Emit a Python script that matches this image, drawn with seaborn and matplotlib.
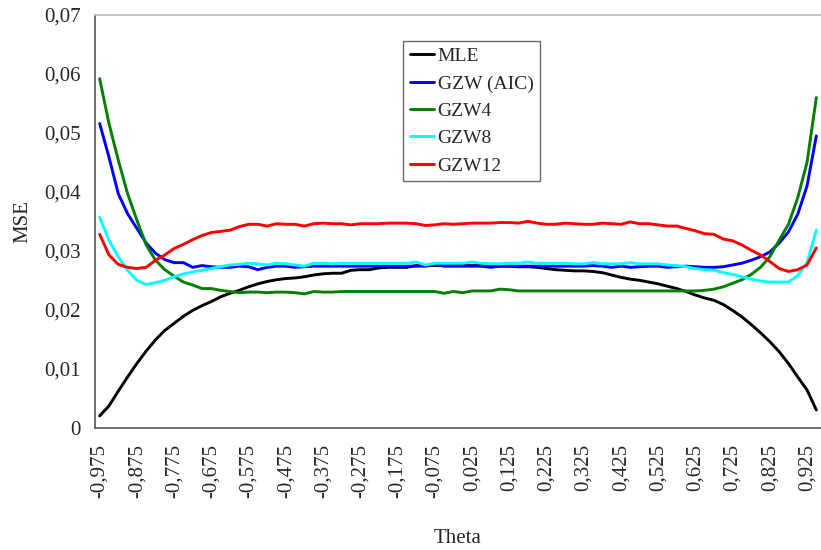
import numpy as np
import pandas as pd
import matplotlib
matplotlib.use("Agg")
import matplotlib.pyplot as plt
import seaborn as sns

# ---- data ----
theta = [round(-0.975 + 0.025 * k, 3) for k in range(78)]

mle = [0.0020, 0.0037, 0.0062, 0.0086, 0.0109, 0.0130, 0.0149, 0.0165, 0.0177, 0.0189,
       0.0199, 0.0207, 0.0214, 0.0222, 0.0228, 0.0233, 0.0239, 0.0244, 0.0248, 0.0251,
       0.0253, 0.0254, 0.0256, 0.0259, 0.0261, 0.0262, 0.0262, 0.0267, 0.0268, 0.0268,
       0.0271, 0.0272, 0.0272, 0.0272, 0.0275, 0.0275, 0.0275, 0.0275, 0.0275, 0.0275,
       0.0275, 0.0275, 0.0274, 0.0274, 0.0274, 0.0273, 0.0273, 0.0272, 0.0270, 0.0268,
       0.0267, 0.0266, 0.0266, 0.0265, 0.0263, 0.0259, 0.0255, 0.0252, 0.0250, 0.0247,
       0.0244, 0.0240, 0.0236, 0.0231, 0.0225, 0.0220, 0.0216, 0.0209, 0.0199, 0.0188,
       0.0175, 0.0161, 0.0146, 0.0129, 0.0109, 0.0086, 0.0064, 0.0030]

gzw_aic = [0.0516, 0.0459, 0.0397, 0.0363, 0.0338, 0.0313, 0.0296, 0.0285, 0.0280, 0.0280,
           0.0272, 0.0275, 0.0273, 0.0272, 0.0272, 0.0274, 0.0273, 0.0268, 0.0272, 0.0274,
           0.0274, 0.0272, 0.0273, 0.0274, 0.0274, 0.0274, 0.0274, 0.0274, 0.0274, 0.0274,
           0.0274, 0.0274, 0.0274, 0.0274, 0.0274, 0.0274, 0.0277, 0.0274, 0.0274, 0.0274,
           0.0274, 0.0274, 0.0272, 0.0274, 0.0274, 0.0274, 0.0274, 0.0274, 0.0274, 0.0274,
           0.0274, 0.0274, 0.0274, 0.0275, 0.0274, 0.0272, 0.0274, 0.0272, 0.0273, 0.0274,
           0.0274, 0.0272, 0.0273, 0.0274, 0.0273, 0.0272, 0.0272, 0.0273, 0.0276, 0.0279,
           0.0284, 0.0290, 0.0298, 0.0313, 0.0332, 0.0362, 0.0410, 0.0495]

gzw4 = [0.0592, 0.0516, 0.0454, 0.0397, 0.0352, 0.0310, 0.0284, 0.0268, 0.0257, 0.0247,
        0.0242, 0.0236, 0.0236, 0.0233, 0.0231, 0.0229, 0.0230, 0.0230, 0.0229, 0.0230,
        0.0230, 0.0229, 0.0227, 0.0231, 0.0230, 0.0230, 0.0231, 0.0231, 0.0231, 0.0231,
        0.0231, 0.0231, 0.0231, 0.0231, 0.0231, 0.0231, 0.0231, 0.0228, 0.0231, 0.0229,
        0.0232, 0.0232, 0.0232, 0.0235, 0.0234, 0.0232, 0.0232, 0.0232, 0.0232, 0.0232,
        0.0232, 0.0232, 0.0232, 0.0232, 0.0232, 0.0232, 0.0232, 0.0232, 0.0232, 0.0232,
        0.0232, 0.0232, 0.0232, 0.0232, 0.0232, 0.0233, 0.0235, 0.0239, 0.0245, 0.0251,
        0.0260, 0.0272, 0.0290, 0.0318, 0.0345, 0.0390, 0.0450, 0.0560]

gzw8 = [0.0357, 0.0318, 0.0290, 0.0267, 0.0250, 0.0243, 0.0246, 0.0250, 0.0256, 0.0261,
        0.0264, 0.0267, 0.0270, 0.0273, 0.0276, 0.0277, 0.0279, 0.0278, 0.0276, 0.0279,
        0.0278, 0.0276, 0.0274, 0.0279, 0.0279, 0.0278, 0.0279, 0.0279, 0.0279, 0.0279,
        0.0279, 0.0279, 0.0279, 0.0279, 0.0281, 0.0276, 0.0279, 0.0279, 0.0279, 0.0279,
        0.0281, 0.0279, 0.0278, 0.0278, 0.0279, 0.0279, 0.0281, 0.0279, 0.0279, 0.0279,
        0.0279, 0.0278, 0.0278, 0.0280, 0.0278, 0.0278, 0.0278, 0.0280, 0.0278, 0.0278,
        0.0278, 0.0276, 0.0275, 0.0273, 0.0270, 0.0268, 0.0267, 0.0263, 0.0260, 0.0256,
        0.0252, 0.0249, 0.0247, 0.0247, 0.0247, 0.0258, 0.0280, 0.0335]

gzw12 = [0.0328, 0.0293, 0.0277, 0.0272, 0.0270, 0.0272, 0.0284, 0.0293, 0.0304, 0.0311,
         0.0319, 0.0326, 0.0331, 0.0333, 0.0335, 0.0341, 0.0345, 0.0345, 0.0342, 0.0346,
         0.0345, 0.0345, 0.0342, 0.0346, 0.0347, 0.0346, 0.0346, 0.0344, 0.0346, 0.0346,
         0.0346, 0.0347, 0.0347, 0.0347, 0.0346, 0.0343, 0.0344, 0.0346, 0.0345, 0.0346,
         0.0347, 0.0347, 0.0347, 0.0348, 0.0348, 0.0347, 0.0350, 0.0347, 0.0345, 0.0345,
         0.0347, 0.0346, 0.0345, 0.0345, 0.0347, 0.0346, 0.0345, 0.0349, 0.0346, 0.0346,
         0.0344, 0.0342, 0.0342, 0.0338, 0.0334, 0.0329, 0.0328, 0.0320, 0.0317, 0.0310,
         0.0301, 0.0293, 0.0282, 0.0270, 0.0265, 0.0268, 0.0276, 0.0305]

series_names = ["MLE", "GZW (AIC)", "GZW4", "GZW8", "GZW12"]
colors = ["#000000", "#0000FF", "#008000", "#00FFFF", "#FF0000"]

x_tick_labels = ["-0,975", "-0,875", "-0,775", "-0,675", "-0,575", "-0,475", "-0,375",
                 "-0,275", "-0,175", "-0,075", "0,025", "0,125", "0,225", "0,325",
                 "0,425", "0,525", "0,625", "0,725", "0,825", "0,925"]
y_ticks = [0, 0.01, 0.02, 0.03, 0.04, 0.05, 0.06, 0.07]
y_tick_labels = ["0", "0,01", "0,02", "0,03", "0,04", "0,05", "0,06", "0,07"]

# ---- frame ----
rows = []
for name, vals in zip(series_names, [mle, gzw_aic, gzw4, gzw8, gzw12]):
    for t, v in zip(theta, vals):
        rows.append({"Theta": t, "MSE": v, "series": name})
df = pd.DataFrame(rows)

sns.set_style("white")
plt.rcParams["font.family"] = ["Liberation Serif", "DejaVu Serif"]

fig = plt.figure(figsize=(8.21, 5.5), dpi=100)
ax = fig.add_axes([95 / 821, 1 - 427.7 / 550, 1 - 95 / 821, (427.7 - 15) / 550])

sns.lineplot(data=df, x="Theta", y="MSE", hue="series", hue_order=series_names,
             palette=dict(zip(series_names, colors)), linewidth=2.1, ax=ax,
             estimator=None, legend=True)

step = 0.025
ax.set_xlim(theta[0] - step / 2, 0.9558)
ax.set_ylim(0, 0.07)

label_pos = theta[::4]
ax.set_xticks(label_pos)
ax.set_xticklabels(x_tick_labels, rotation=90, fontsize=15)
ax.tick_params(axis="x", which="major", length=0, pad=12)
boundaries = [t - step / 2 for t in theta] + [theta[-1] + step / 2]
ax.set_xticks(boundaries, minor=True)
ax.tick_params(axis="x", which="minor", length=5, width=0.8, color="#555555", direction="out")

ax.set_yticks(y_ticks)
ax.set_yticklabels(y_tick_labels, fontsize=15)
ax.tick_params(axis="y", length=6, width=0.8, color="#555555", direction="out", pad=4)

ax.set_xlabel("Theta", fontsize=15, labelpad=22)
ax.set_ylabel("MSE", fontsize=15, labelpad=9)

for s in ["left", "bottom"]:
    ax.spines[s].set_color("#555555")
    ax.spines[s].set_linewidth(1.2)
ax.spines["top"].set_color("#bbbbbb")
ax.spines["top"].set_linewidth(1.2)
ax.spines["right"].set_visible(False)

handles, labels = ax.get_legend_handles_labels()
leg = ax.legend(handles, labels, loc="upper left",
                bbox_to_anchor=(402.7 / 821, 1 - 40.7 / 550), bbox_transform=fig.transFigure,
                fontsize=14, frameon=True, fancybox=False, handlelength=1.25,
                handletextpad=0.2, labelspacing=0.5, borderpad=0.35, borderaxespad=0)
leg.get_frame().set_edgecolor("#444444")
leg.get_frame().set_linewidth(1.0)
for line in leg.get_lines():
    line.set_linewidth(2.1)

fig.savefig("out.png", dpi=100)
